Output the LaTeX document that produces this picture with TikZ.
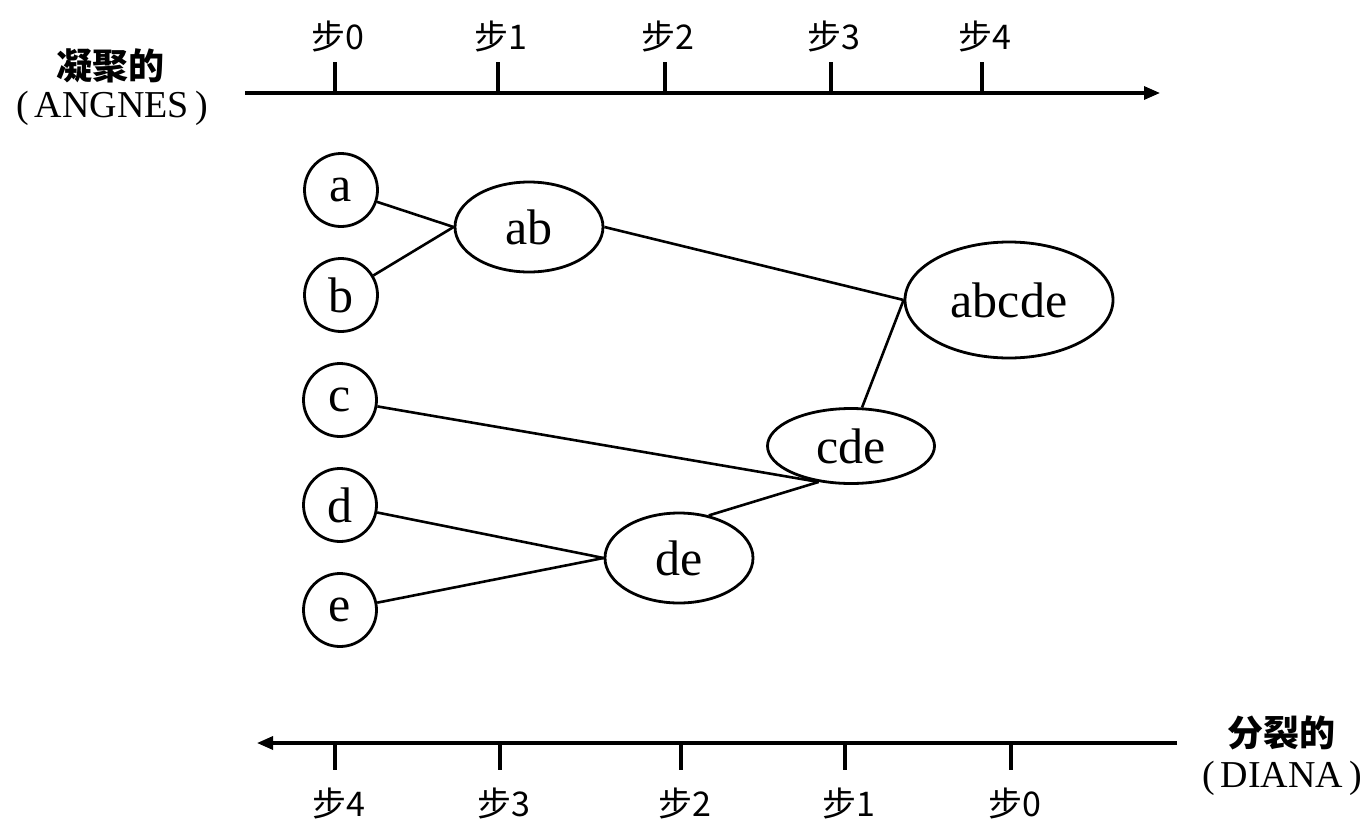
\documentclass[tikz,border=0pt]{standalone}
\usepackage{fontspec}
\setmainfont{Liberation Serif}
\newfontfamily\cjk{Noto Sans CJK SC}
\usetikzlibrary{shapes.geometric,arrows.meta}
\newcommand{\lpar}{(\kern6pt}
\newcommand{\rpar}{\kern6pt)}
\begin{document}
\begin{tikzpicture}[x=1pt,y=-1pt,
  lbl/.style={font=\fontsize{50}{54}\selectfont, draw, line width=2.8pt, inner sep=0pt},
  leaf/.style={lbl, circle, minimum size=73pt},
  clus/.style={lbl, ellipse},
  link/.style={line width=2.6pt},
  axisline/.style={line width=3.2pt, -{Triangle[length=16pt,width=13pt]}},
  tickline/.style={line width=3.2pt},
  steplbl/.style={font=\cjk\fontsize{34}{36}\selectfont, inner sep=0pt},
  sidecjk/.style={font=\cjk\bfseries\fontsize{36}{40}\selectfont, inner sep=0pt},
  sidelat/.style={font=\fontsize{38}{42}\selectfont, inner sep=0pt}]
\useasboundingbox (0,0) rectangle (1371,825);

% top axis (agglomerative)
\node[sidecjk] (agg) at (110,66) {凝聚的};
\node[sidelat] (angnes) at (112,108) {\lpar ANGNES\rpar};
\coordinate (ta0) at (245,93);
\coordinate (ta1) at (1160,93);
\draw[axisline] (ta0) -- (ta1);
\foreach \x/\n in {335/0,498/1,665/2,831/3,982/4}{
  \draw[tickline] (\x,93) -- (\x,62);
  \node[steplbl] (t\n) at (\x+3,36) {步\n};
}

% bottom axis (divisive)
\node[sidecjk] (div) at (1281,733) {分裂的};
\node[sidelat] (diana) at (1282,778) {\lpar DIANA\rpar};
\coordinate (ba0) at (1177,743);
\coordinate (ba1) at (257,743);
\draw[axisline] (ba0) -- (ba1);
\foreach \x/\n in {335/4,500/3,681/2,845/1,1011/0}{
  \draw[tickline] (\x,743) -- (\x,770);
  \node[steplbl] (b\n) at (\x+4,803) {步\n};
}

% leaves
\node[leaf] (a) at (341,190) {a};
\node[leaf] (b) at (341,295) {b};
\node[leaf] (c) at (340,400) {c};
\node[leaf] (d) at (340,505) {d};
\node[leaf] (e) at (340,610) {e};

% clusters
\node[clus, minimum width=148pt, minimum height=90pt] (ab) at (529,227) {ab};
\node[clus, minimum width=208pt, minimum height=116pt] (abcde) at (1009,300) {abcde};
\node[clus, minimum width=167pt, minimum height=75pt] (cde) at (851,446) {cde};
\node[clus, minimum width=148pt, minimum height=90pt] (de) at (679,558) {de};

% links
\draw[link] (a) -- (ab.west);
\draw[link] (b) -- (ab.west);
\draw[link] (ab.east) -- (abcde.west);
\draw[link] (cde.74) -- (abcde.west);
\draw[link] (c) -- (cde.228);
\draw[link] (de.55) -- (cde.228);
\draw[link] (d) -- (de.west);
\draw[link] (e) -- (de.west);
\end{tikzpicture}
\end{document}
